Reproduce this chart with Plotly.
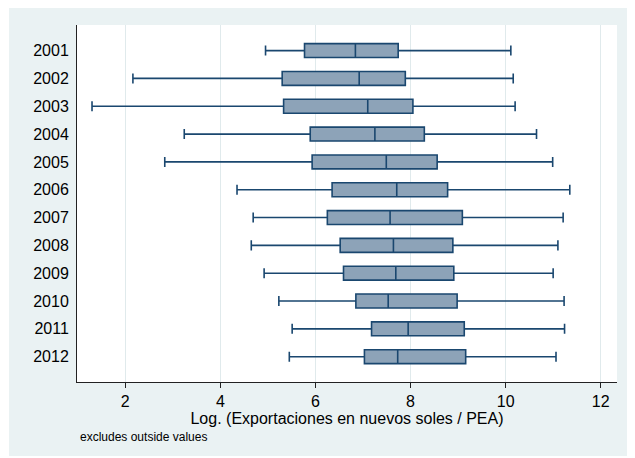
import plotly.graph_objects as go

# Box-plot summaries per year (log of exports per EAP), outside values excluded
years = ["2001", "2002", "2003", "2004", "2005", "2006",
         "2007", "2008", "2009", "2010", "2011", "2012"]
lower_whisker = [4.95, 2.16, 1.30, 3.24, 2.83, 4.35, 4.69, 4.65, 4.92, 5.23, 5.51, 5.45]
q1 = [5.77, 5.30, 5.33, 5.89, 5.93, 6.35, 6.25, 6.52, 6.59, 6.85, 7.18, 7.03]
median = [6.84, 6.92, 7.10, 7.25, 7.49, 7.71, 7.57, 7.64, 7.69, 7.53, 7.95, 7.73]
q3 = [7.74, 7.89, 8.05, 8.29, 8.56, 8.78, 9.09, 8.89, 8.91, 8.98, 9.13, 9.16]
upper_whisker = [10.11, 10.16, 10.20, 10.65, 10.99, 11.35, 11.21, 11.10, 11.00, 11.23, 11.24, 11.06]

x_ticks = [2, 4, 6, 8, 10, 12]

NAVY = "#1A476F"
FILL = "#8DA3B8"
OUTER_BG = "#EAF2F3"
GRID = "#E0EAEC"
FONT = "Liberation Sans, Arial, sans-serif"

W, H = 635, 458
L, R, T, B = 77, 18, 25, 76
pw, ph = W - L - R, H - T - B

fig = go.Figure()
fig.add_trace(go.Box(
    y=years,
    q1=q1, median=median, q3=q3,
    lowerfence=lower_whisker, upperfence=upper_whisker,
    orientation="h",
    fillcolor=FILL,
    line=dict(color=NAVY, width=1.6),
    width=0.5,
    whiskerwidth=0.72,
    boxpoints=False,
    hoverinfo="x+y",
    showlegend=False,
))

# outer light panel and the white plotting region
fig.add_shape(type="rect", xref="paper", yref="paper", layer="below",
              x0=(9 - L) / pw, x1=(627 - L) / pw,
              y0=-(456 - (T + ph)) / ph, y1=1 + (T - 8) / ph,
              fillcolor=OUTER_BG, line=dict(width=0))
fig.add_shape(type="rect", xref="paper", yref="paper", layer="below",
              x0=0, x1=1, y0=0, y1=1,
              fillcolor="white", line=dict(width=0))

fig.add_annotation(text="excludes outside values", xref="paper", yref="paper",
                   x=(78 - L) / pw, y=-(437 - (T + ph)) / ph,
                   xanchor="left", yanchor="middle", showarrow=False,
                   font=dict(family=FONT, size=12, color="black"))

fig.update_layout(
    width=W, height=H,
    margin=dict(l=L, r=R, t=T, b=B, pad=0),
    paper_bgcolor="white",
    plot_bgcolor="white",
    font=dict(family=FONT, color="black"),
    xaxis=dict(
        range=[0.984, 12.343],
        tickvals=x_ticks,
        ticks="outside", ticklen=5, tickcolor="#222", tickwidth=1,
        showgrid=True, gridcolor=GRID, gridwidth=1,
        showline=True, linecolor="#222", linewidth=1,
        zeroline=False,
        tickfont=dict(size=16),
        title=dict(text="Log. (Exportaciones en nuevos soles / PEA)",
                   font=dict(size=16), standoff=1),
    ),
    yaxis=dict(
        type="category",
        categoryorder="array", categoryarray=years,
        range=[11.91, -0.92],
        showgrid=False,
        showline=True, linecolor="#222", linewidth=1,
        ticks="", ticklabelstandoff=4,
        tickfont=dict(size=16),
        zeroline=False,
    ),
)

fig.write_html("out.html")
